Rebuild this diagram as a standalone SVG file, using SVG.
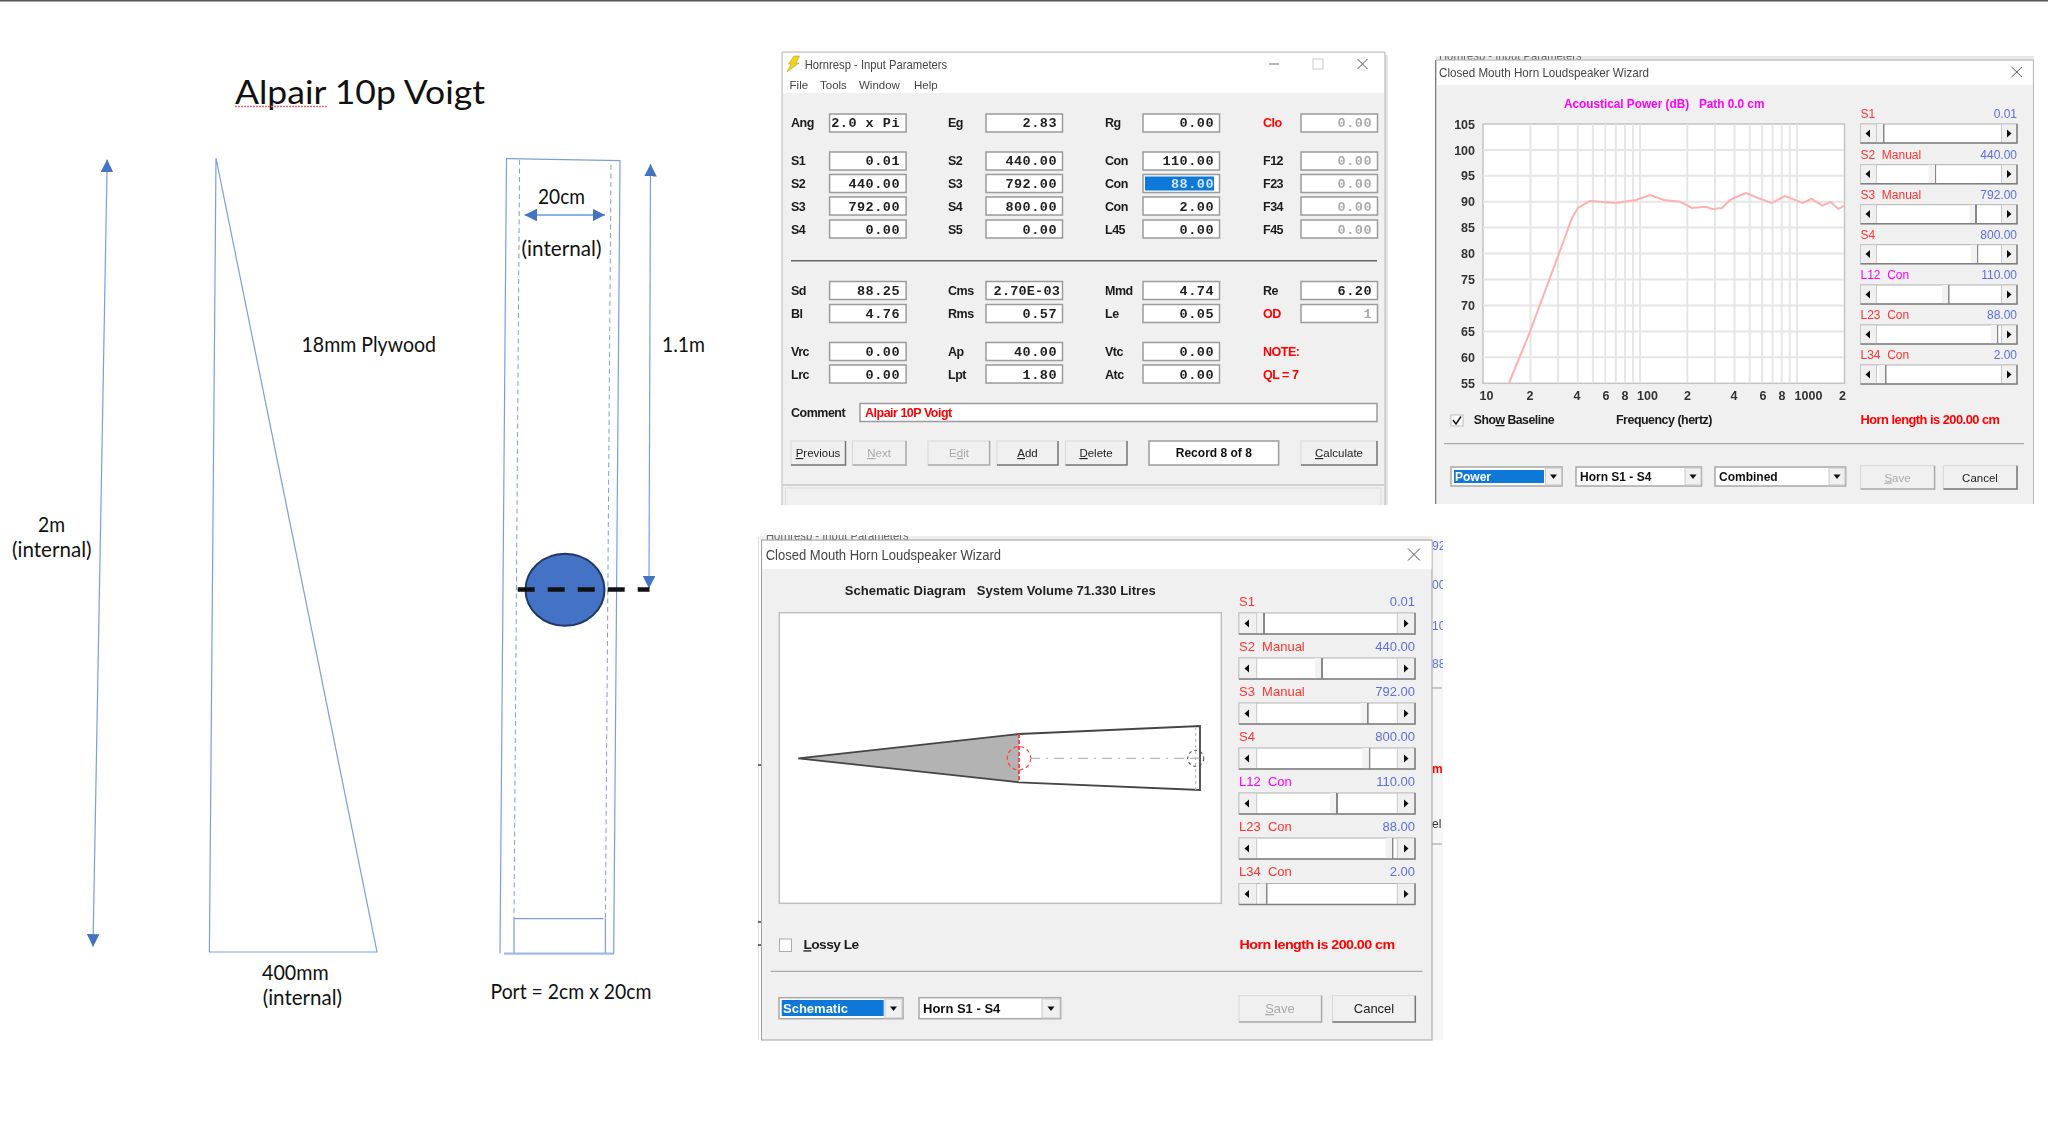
<svg xmlns="http://www.w3.org/2000/svg" width="2048" height="1133" viewBox="0 0 2048 1133">
<style>
text{font-family:"Liberation Sans",Arial,sans-serif;white-space:pre}
.c{font-family:Lato,"Liberation Sans",sans-serif;font-size:21px;fill:#111}
.ln{fill:none;stroke:#7c9fdc;stroke-width:1.2}
.da{fill:none;stroke:#7c9fdc;stroke-width:1;stroke-dasharray:5 3.5}
.ar{fill:none;stroke:#7c9fdc;stroke-width:1.2;marker-start:url(#ah);marker-end:url(#ah)}
.t{font-size:13px;fill:#444}
.m{font-size:11.5px;fill:#444}
.l{font-size:12.5px;font-weight:bold;fill:#1a1a1a;letter-spacing:-.5px}
.r{fill:#f00}
.v{font-family:"Liberation Mono",monospace;font-size:13.5px;font-weight:bold;fill:#222;text-anchor:end;letter-spacing:.5px}
.d{fill:#aaa}
.f{fill:#fff;stroke:#9b9b9b;stroke-width:1.5}
.b{fill:#f0f0f0;stroke:#d8d8d8}
.e{fill:none;stroke:#777;stroke-width:1.5}
.bt{font-size:11.5px;fill:#222;text-anchor:middle}
.dt{font-size:11.5px;fill:#aaa;text-anchor:middle}
.win{fill:#f0f0f0}
.wb{fill:none;stroke:#b8b8b8}
.tb{fill:#fff}
.g{stroke:#e6e6e6;stroke-width:2;fill:none}
.y{font-size:12.5px;font-weight:bold;fill:#333;text-anchor:end}
.x{font-size:12.5px;font-weight:bold;fill:#333;text-anchor:middle}
.sl{font-size:12px;fill:#f33}
.sm{font-size:12px;fill:#f0f}
.sv{font-size:12px;fill:#5a70e0;text-anchor:end}
.tr{fill:#fff;stroke:#b0b0b0}
.sb{fill:#f0f0f0;stroke:#c8c8c8}
.th{fill:url(#thumb)}
.tri{fill:#111}
.w{fill:#fff;stroke:#a8a8a8;stroke-width:1.5}
.sel{fill:#0a78d7}
.cb{font-size:12px;font-weight:bold;fill:#111}
.cs{font-size:12px;font-weight:bold;fill:#fff}
.se{stroke:#808080;stroke-width:1.5;fill:none}
</style>
<defs>
<filter id="soft" x="-2%" y="-2%" width="104%" height="104%"><feGaussianBlur stdDeviation="0.4"/></filter>
<linearGradient id="thumb"><stop offset="0" stop-color="#f2f2f2"/><stop offset=".8" stop-color="#f2f2f2"/><stop offset=".8" stop-color="#888"/><stop offset="1" stop-color="#888"/></linearGradient>
<marker id="ah" markerUnits="userSpaceOnUse" viewBox="0 0 12.5 12.6" refX="12.5" refY="6.3" markerWidth="12.5" markerHeight="12.6" orient="auto-start-reverse"><path d="M0 0L12.5 6.3L0 12.6Z" fill="#4472c4"/></marker>
<path id="tl" class="tri" d="M-2.5 0L2 -4V4Z"/>
<path id="tr" class="tri" d="M2.5 0L-2 -4V4Z"/>
<path id="td" class="tri" d="M-3.5 -2H3.5L0 2.5Z"/>
<clipPath id="c1"><rect x="1432" y="537" width="11" height="503"/></clipPath>
<clipPath id="c2"><rect x="1436" y="56" width="600" height="4"/></clipPath>
<clipPath id="c3"><rect x="760" y="535" width="672" height="5"/></clipPath>
</defs>
<rect width="2048" height="1133" fill="#fff"/>
<rect width="2048" height="1.5" fill="#555"/>

<g id="title">
<text class="c" x="235" y="104" style="font-size:33px" textLength="250" lengthAdjust="spacingAndGlyphs">Alpair 10p Voigt</text>
<path d="M235 106.5H327" stroke="#e26a6a" stroke-width="1.5" stroke-dasharray="2 1" fill="none"/>
</g>

<g id="connectors">
<line class="ar" x1="107.2" y1="159.6" x2="93" y2="946.7"/>
<line class="ar" x1="650.5" y1="164" x2="649" y2="588.5"/>
<line class="ar" x1="524.5" y1="215" x2="605" y2="215" style="stroke-width:2;stroke:#8fb0e6"/>
</g>

<g id="side-panel">
<path class="ln" d="M216 158L377 952H209.4Z"/>
<text class="c" x="301.5" y="352" textLength="134.5" lengthAdjust="spacingAndGlyphs">18mm Plywood</text>
<text class="c" x="38" y="532" textLength="27" lengthAdjust="spacingAndGlyphs">2m</text>
<text class="c" x="12" y="557" textLength="79.6" lengthAdjust="spacingAndGlyphs">(internal)</text>
<text class="c" x="262" y="980" textLength="66.6" lengthAdjust="spacingAndGlyphs">400mm</text>
<text class="c" x="262.7" y="1005" textLength="79.3" lengthAdjust="spacingAndGlyphs">(internal)</text>
</g>

<g id="front-panel">
<path class="ln" d="M500 953.6L506.5 158.6L620 160.7L613.7 953.6H504"/>
<path class="da" d="M519.6 160L514 918"/>
<path class="da" d="M611 165L605.4 918"/>
<path class="ln" d="M514 953.6V918.6H603.5M605.4 918.6V953.6"/>
<path d="M504 953.6H613.7" stroke="#9db8e6" stroke-width="2" fill="none"/>
<text class="c" x="538" y="204" textLength="47" lengthAdjust="spacingAndGlyphs">20cm</text>
<text class="c" x="521.6" y="256" textLength="79.9" lengthAdjust="spacingAndGlyphs">(internal)</text>
<text class="c" x="662" y="352" textLength="43" lengthAdjust="spacingAndGlyphs">1.1m</text>
<text class="c" x="490.5" y="998.6" textLength="161" lengthAdjust="spacingAndGlyphs">Port = 2cm x 20cm</text>
</g>

<g id="driver">
<ellipse cx="565" cy="589.7" rx="39.5" ry="36" fill="#4472c4" stroke="#1f3864" stroke-width="2"/>
<path d="M517.7 589.6H649.5" stroke="#111" stroke-width="4.5" stroke-dasharray="17 13" fill="none"/>
</g>

<g id="hornresp-input" filter="url(#soft)">
<rect x="785" y="55" width="603" height="450" fill="#e4e4e4"/>
<rect class="win" x="782" y="52" width="603" height="453"/>
<path class="wb" d="M782 505V52H1385V505"/>
<rect class="tb" x="783" y="53" width="601" height="40"/>
<path d="M794 56L799.5 56L796 63L799 63L787 72L791 64L788.5 64Z" fill="#f3d21b" stroke="#a89020" stroke-width=".5"/>
<text class="t" x="804.7" y="69" textLength="142.5" lengthAdjust="spacingAndGlyphs">Hornresp - Input Parameters</text>
<path d="M1269 64H1279" stroke="#888" stroke-width="1.2"/>
<rect x="1313" y="59" width="10" height="10" fill="none" stroke="#ccc"/>
<path d="M1357.5 59L1367.5 69M1367.5 59L1357.5 69" stroke="#555" stroke-width="1"/>
<text class="m" x="789.6" y="89.3">File</text><text class="m" x="820" y="89.3">Tools</text><text class="m" x="859" y="89.3">Window</text><text class="m" x="914" y="89.3">Help</text>

<text class="l" x="791" y="127">Ang</text><rect class="f" x="829.6" y="114" width="76.5" height="18"/><text class="v" x="900" y="127">2.0 x Pi</text>
<text class="l" x="948" y="127">Eg</text><rect class="f" x="986" y="114" width="76.5" height="18"/><text class="v" x="1057" y="127">2.83</text>
<text class="l" x="1105" y="127">Rg</text><rect class="f" x="1143" y="114" width="76.5" height="18"/><text class="v" x="1214" y="127">0.00</text>
<text class="l r" x="1263" y="127">Clo</text><rect class="f" x="1301" y="114" width="76.5" height="18"/><text class="v d" x="1372" y="127">0.00</text>

<text class="l" x="791" y="165">S1</text><rect class="f" x="829.6" y="152" width="76.5" height="18"/><text class="v" x="900" y="165">0.01</text>
<text class="l" x="948" y="165">S2</text><rect class="f" x="986" y="152" width="76.5" height="18"/><text class="v" x="1057" y="165">440.00</text>
<text class="l" x="1105" y="165">Con</text><rect class="f" x="1143" y="152" width="76.5" height="18"/><text class="v" x="1214" y="165">110.00</text>
<text class="l" x="1263" y="165">F12</text><rect class="f" x="1301" y="152" width="76.5" height="18"/><text class="v d" x="1372" y="165">0.00</text>

<text class="l" x="791" y="188">S2</text><rect class="f" x="829.6" y="174.5" width="76.5" height="18"/><text class="v" x="900" y="188">440.00</text>
<text class="l" x="948" y="188">S3</text><rect class="f" x="986" y="174.5" width="76.5" height="18"/><text class="v" x="1057" y="188">792.00</text>
<text class="l" x="1105" y="188">Con</text><rect class="f" x="1143" y="174.5" width="76.5" height="18"/><rect class="sel" x="1145" y="176.5" width="69" height="14"/><text class="v" x="1214" y="188" style="fill:#cfe4ff">88.00</text>
<text class="l" x="1263" y="188">F23</text><rect class="f" x="1301" y="174.5" width="76.5" height="18"/><text class="v d" x="1372" y="188">0.00</text>

<text class="l" x="791" y="211">S3</text><rect class="f" x="829.6" y="197" width="76.5" height="18"/><text class="v" x="900" y="211">792.00</text>
<text class="l" x="948" y="211">S4</text><rect class="f" x="986" y="197" width="76.5" height="18"/><text class="v" x="1057" y="211">800.00</text>
<text class="l" x="1105" y="211">Con</text><rect class="f" x="1143" y="197" width="76.5" height="18"/><text class="v" x="1214" y="211">2.00</text>
<text class="l" x="1263" y="211">F34</text><rect class="f" x="1301" y="197" width="76.5" height="18"/><text class="v d" x="1372" y="211">0.00</text>

<text class="l" x="791" y="234">S4</text><rect class="f" x="829.6" y="220" width="76.5" height="18"/><text class="v" x="900" y="234">0.00</text>
<text class="l" x="948" y="234">S5</text><rect class="f" x="986" y="220" width="76.5" height="18"/><text class="v" x="1057" y="234">0.00</text>
<text class="l" x="1105" y="234">L45</text><rect class="f" x="1143" y="220" width="76.5" height="18"/><text class="v" x="1214" y="234">0.00</text>
<text class="l" x="1263" y="234">F45</text><rect class="f" x="1301" y="220" width="76.5" height="18"/><text class="v d" x="1372" y="234">0.00</text>

<path d="M791 260.7H1377" stroke="#666" stroke-width="1.5"/>

<text class="l" x="791" y="295">Sd</text><rect class="f" x="829.6" y="281.5" width="76.5" height="18"/><text class="v" x="900" y="295">88.25</text>
<text class="l" x="948" y="295">Cms</text><rect class="f" x="986" y="281.5" width="76.5" height="18"/><text class="v" x="1060" y="295" style="letter-spacing:.2px">2.70E-03</text>
<text class="l" x="1105" y="295">Mmd</text><rect class="f" x="1143" y="281.5" width="76.5" height="18"/><text class="v" x="1214" y="295">4.74</text>
<text class="l" x="1263" y="295">Re</text><rect class="f" x="1301" y="281.5" width="76.5" height="18"/><text class="v" x="1372" y="295">6.20</text>

<text class="l" x="791" y="318">Bl</text><rect class="f" x="829.6" y="304.5" width="76.5" height="18"/><text class="v" x="900" y="318">4.76</text>
<text class="l" x="948" y="318">Rms</text><rect class="f" x="986" y="304.5" width="76.5" height="18"/><text class="v" x="1057" y="318">0.57</text>
<text class="l" x="1105" y="318">Le</text><rect class="f" x="1143" y="304.5" width="76.5" height="18"/><text class="v" x="1214" y="318">0.05</text>
<text class="l r" x="1263" y="318">OD</text><rect class="f" x="1301" y="304.5" width="76.5" height="18"/><text class="v d" x="1372" y="318">1</text>

<text class="l" x="791" y="356">Vrc</text><rect class="f" x="829.6" y="342.5" width="76.5" height="18"/><text class="v" x="900" y="356">0.00</text>
<text class="l" x="948" y="356">Ap</text><rect class="f" x="986" y="342.5" width="76.5" height="18"/><text class="v" x="1057" y="356">40.00</text>
<text class="l" x="1105" y="356">Vtc</text><rect class="f" x="1143" y="342.5" width="76.5" height="18"/><text class="v" x="1214" y="356">0.00</text>
<text class="l r" x="1263" y="356">NOTE:</text>

<text class="l" x="791" y="379">Lrc</text><rect class="f" x="829.6" y="365" width="76.5" height="18"/><text class="v" x="900" y="379">0.00</text>
<text class="l" x="948" y="379">Lpt</text><rect class="f" x="986" y="365" width="76.5" height="18"/><text class="v" x="1057" y="379">1.80</text>
<text class="l" x="1105" y="379">Atc</text><rect class="f" x="1143" y="365" width="76.5" height="18"/><text class="v" x="1214" y="379">0.00</text>
<text class="l r" x="1263" y="379">QL = 7</text>

<text class="l" x="791" y="417">Comment</text>
<rect class="f" x="860" y="403.5" width="517" height="18"/>
<text class="l r" x="865" y="417">Alpair 10P Voigt</text>

<rect class="b" x="791" y="441" width="54.5" height="24"/><path class="e" d="M791 465H845.5V441"/><text class="bt" x="818" y="457"><tspan text-decoration="underline">P</tspan>revious</text>
<rect class="b" x="852.4" y="441" width="53.6" height="24"/><path class="e" d="M852.4 465H906V441" style="stroke:#aaa"/><text class="dt" x="879" y="457"><tspan text-decoration="underline">N</tspan>ext</text>
<rect class="b" x="928" y="441" width="61.6" height="24"/><path class="e" d="M928 465H989.6V441" style="stroke:#aaa"/><text class="dt" x="959" y="457">E<tspan text-decoration="underline">d</tspan>it</text>
<rect class="b" x="997" y="441" width="61" height="24"/><path class="e" d="M997 465H1058V441"/><text class="bt" x="1027.5" y="457"><tspan text-decoration="underline">A</tspan>dd</text>
<rect class="b" x="1065.5" y="441" width="61.5" height="24"/><path class="e" d="M1065.5 465H1127V441"/><text class="bt" x="1096" y="457"><tspan text-decoration="underline">D</tspan>elete</text>
<rect class="f" x="1149" y="441" width="129.6" height="24"/><text x="1213.8" y="457" text-anchor="middle" font-size="12" font-weight="bold" fill="#111">Record 8 of 8</text>
<rect class="b" x="1301" y="441" width="76" height="24"/><path class="e" d="M1301 465H1377V441"/><text class="bt" x="1339" y="457"><tspan text-decoration="underline">C</tspan>alculate</text>
<path d="M783 485H1384" stroke="#c8c8c8" stroke-width="1.5"/>
<path d="M785.5 505V488H1381V505" stroke="#ddd" fill="none"/>
</g>

<g id="wizard-power" filter="url(#soft)">
<rect x="1436" y="56" width="598" height="5" fill="#e8e8e8"/>
<text clip-path="url(#c2)" x="1439" y="60" font-size="13" fill="#666" textLength="142.5" lengthAdjust="spacingAndGlyphs">Hornresp - Input Parameters</text>
<rect class="win" x="1436" y="60" width="597.5" height="444"/>
<path class="wb" d="M1436 504V60H2033.5V504"/>
<path d="M1435.5 60V504" stroke="#777" stroke-width="1"/>
<rect class="tb" x="1437" y="61" width="595.5" height="24"/>
<text class="t" x="1439" y="76.7" textLength="210" lengthAdjust="spacingAndGlyphs">Closed Mouth Horn Loudspeaker Wizard</text>
<path d="M2011.5 67L2022 77M2022 67L2011.5 77" stroke="#555" stroke-width="1"/>
<text x="1564" y="108" font-size="12" font-weight="bold" fill="#f0f" textLength="200.4" lengthAdjust="spacingAndGlyphs">Acoustical Power (dB)   Path 0.0 cm</text>
<rect x="1483" y="124" width="361.5" height="259.3" fill="#fff" stroke="#c4c4c4" stroke-width="1.5"/>
<path class="g" d="M1483 149.9H1844M1483 175.8H1844M1483 201.7H1844M1483 227.6H1844M1483 253.6H1844M1483 279.5H1844M1483 305.4H1844M1483 331.4H1844M1483 357.3H1844"/>
<path class="g" d="M1530.5 124V383M1558.1 124V383M1577.7 124V383M1592.9 124V383M1605.3 124V383M1615.8 124V383M1624.9 124V383M1632.9 124V383M1640.1 124V383M1687.3 124V383M1714.9 124V383M1734.5 124V383M1749.7 124V383M1762.1 124V383M1772.6 124V383M1781.7 124V383M1789.7 124V383M1796.9 124V383"/>
<path d="M1509 383L1530 331.7L1556 261.7L1572 218L1578 208L1590 201L1616 203L1636 200L1650 195L1664 200L1680 201.7L1692 208L1706 206.7L1712 209L1722 208L1730 200L1736 197L1746 193L1760 198.7L1771.6 203L1785 196L1802.5 203L1811.7 199L1822.5 205.7L1830.5 202L1838.5 209L1844 205.7" fill="none" stroke="#ffb0b0" stroke-width="2"/>
<text class="y" x="1475" y="128.5">105</text><text class="y" x="1475" y="154.5">100</text><text class="y" x="1475" y="180">95</text><text class="y" x="1475" y="206">90</text><text class="y" x="1475" y="232">85</text><text class="y" x="1475" y="258">80</text><text class="y" x="1475" y="284">75</text><text class="y" x="1475" y="310">70</text><text class="y" x="1475" y="336">65</text><text class="y" x="1475" y="362">60</text><text class="y" x="1475" y="388">55</text>
<text class="x" x="1486.5" y="400">10</text><text class="x" x="1530" y="400">2</text><text class="x" x="1577" y="400">4</text><text class="x" x="1606" y="400">6</text><text class="x" x="1625" y="400">8</text><text class="x" x="1647.5" y="400">100</text><text class="x" x="1687.5" y="400">2</text><text class="x" x="1734" y="400">4</text><text class="x" x="1763" y="400">6</text><text class="x" x="1782" y="400">8</text><text class="x" x="1808.5" y="400">1000</text><text class="x" x="1842.5" y="400">2</text>
<g id="sliders-power">
<text class="sl" x="1860.5" y="118">S1</text><text class="sv" x="2017" y="118">0.01</text><rect class="tr" x="1860.5" y="124" width="156.5" height="19"/><rect class="sb" x="1860.5" y="124" width="16" height="19"/><rect class="sb" x="2001.5" y="124" width="15.5" height="19"/><rect class="th" x="1877" y="124" width="7.5" height="19"/><path class="se" d="M1860.5 143H2017V124"/><use href="#tl" x="1868" y="133.5"/><use href="#tr" x="2009" y="133.5"/>
<text class="sl" x="1860.5" y="158.7">S2  Manual</text><text class="sv" x="2017" y="158.7">440.00</text><rect class="tr" x="1860.5" y="164.7" width="156.5" height="19"/><rect class="sb" x="1860.5" y="164.7" width="16" height="19"/><rect class="sb" x="2001.5" y="164.7" width="15.5" height="19"/><rect class="th" x="1928.6" y="164.7" width="7.5" height="19"/><path class="se" d="M1860.5 183.7H2017V164.7"/><use href="#tl" x="1868" y="174"/><use href="#tr" x="2009" y="174"/>
<text class="sl" x="1860.5" y="198.7">S3  Manual</text><text class="sv" x="2017" y="198.7">792.00</text><rect class="tr" x="1860.5" y="204.7" width="156.5" height="19"/><rect class="sb" x="1860.5" y="204.7" width="16" height="19"/><rect class="sb" x="2001.5" y="204.7" width="15.5" height="19"/><rect class="th" x="1969.5" y="204.7" width="7.5" height="19"/><path class="se" d="M1860.5 223.7H2017V204.7"/><use href="#tl" x="1868" y="214"/><use href="#tr" x="2009" y="214"/>
<text class="sl" x="1860.5" y="238.7">S4</text><text class="sv" x="2017" y="238.7">800.00</text><rect class="tr" x="1860.5" y="244.7" width="156.5" height="19"/><rect class="sb" x="1860.5" y="244.7" width="16" height="19"/><rect class="sb" x="2001.5" y="244.7" width="15.5" height="19"/><rect class="th" x="1970.7" y="244.7" width="7.5" height="19"/><path class="se" d="M1860.5 263.7H2017V244.7"/><use href="#tl" x="1868" y="254"/><use href="#tr" x="2009" y="254"/>
<text class="sm" x="1860.5" y="278.7">L12  Con</text><text class="sv" x="2017" y="278.7">110.00</text><rect class="tr" x="1860.5" y="285" width="156.5" height="19"/><rect class="sb" x="1860.5" y="285" width="16" height="19"/><rect class="sb" x="2001.5" y="285" width="15.5" height="19"/><rect class="th" x="1942" y="285" width="7.5" height="19"/><path class="se" d="M1860.5 304H2017V285"/><use href="#tl" x="1868" y="294.5"/><use href="#tr" x="2009" y="294.5"/>
<text class="sl" x="1860.5" y="319">L23  Con</text><text class="sv" x="2017" y="319">88.00</text><rect class="tr" x="1860.5" y="325" width="156.5" height="19"/><rect class="sb" x="1860.5" y="325" width="16" height="19"/><rect class="sb" x="2001.5" y="325" width="15.5" height="19"/><rect class="th" x="1990.7" y="325" width="7.5" height="19"/><path class="se" d="M1860.5 344H2017V325"/><use href="#tl" x="1868" y="334.5"/><use href="#tr" x="2009" y="334.5"/>
<text class="sl" x="1860.5" y="359">L34  Con</text><text class="sv" x="2017" y="359">2.00</text><rect class="tr" x="1860.5" y="365" width="156.5" height="19"/><rect class="sb" x="1860.5" y="365" width="16" height="19"/><rect class="sb" x="2001.5" y="365" width="15.5" height="19"/><rect class="th" x="1879" y="365" width="7.5" height="19"/><path class="se" d="M1860.5 384H2017V365"/><use href="#tl" x="1868" y="374.5"/><use href="#tr" x="2009" y="374.5"/>
</g>
<rect x="1451" y="415" width="12" height="11" fill="#fff" stroke="#bbb"/><path d="M1453 420L1456 424L1461 416.5" fill="none" stroke="#111" stroke-width="1.5"/>
<text class="l" x="1473.7" y="424" textLength="80.3" lengthAdjust="spacingAndGlyphs">Sho<tspan text-decoration="underline">w</tspan> Baseline</text>
<text class="l" x="1616" y="424" textLength="96" lengthAdjust="spacingAndGlyphs">Frequency (hertz)</text>
<text class="l r" x="1860.5" y="424" textLength="139" lengthAdjust="spacingAndGlyphs">Horn length is 200.00 cm</text>
<path d="M1444 443.7H2024" stroke="#999" stroke-width="1"/>
<rect class="w" x="1451" y="467" width="111" height="19"/><rect class="sel" x="1454" y="470" width="90" height="13"/><rect class="sb" x="1545.5" y="468" width="16" height="17"/><use href="#td" x="1553.5" y="476.5"/><text class="cs" x="1455" y="481">Power</text>
<rect class="w" x="1576" y="467" width="125.5" height="19"/><rect class="sb" x="1685" y="468" width="16" height="17"/><use href="#td" x="1693" y="476.5"/><text class="cb" x="1580" y="481">Horn S1 - S4</text>
<rect class="w" x="1715" y="467" width="130.7" height="19"/><rect class="sb" x="1829" y="468" width="16" height="17"/><use href="#td" x="1837" y="476.5"/><text class="cb" x="1719" y="481">Combined</text>
<rect class="b" x="1860.5" y="465.7" width="74" height="23.3"/><path class="e" d="M1860.5 489H1934.6V465.7" style="stroke:#aaa"/><text class="dt" x="1897.5" y="481.5"><tspan text-decoration="underline">S</tspan>ave</text>
<rect class="b" x="1943.4" y="465.7" width="73.6" height="23.3"/><path class="e" d="M1943.4 489H2017V465.7"/><text class="bt" x="1980" y="481.5">Cancel</text>
</g>

<g id="wizard-schematic" filter="url(#soft)">
<rect x="1432" y="537" width="11" height="503" fill="#f6f6f6"/>
<g clip-path="url(#c1)" font-size="12">
<text x="1432" y="550" fill="#5a70e0">92</text><text x="1432" y="589" fill="#5a70e0">00</text><text x="1432" y="630" fill="#5a70e0">10</text><text x="1432" y="668" fill="#5a70e0">88</text>
<text x="1432" y="773" fill="#f00" font-weight="bold">m</text><text x="1432" y="828" fill="#333">el</text>
<path d="M1432 688H1442M1432 844H1442" stroke="#999"/>
</g>
<rect x="760" y="536" width="672" height="4" fill="#eee"/>
<text clip-path="url(#c3)" x="766" y="540" font-size="13" fill="#666" textLength="142.5" lengthAdjust="spacingAndGlyphs">Hornresp - Input Parameters</text>
<path d="M758.5 537V1040" stroke="#ddd"/><path d="M758 765H762M758 922H762M758 945H761" stroke="#444" stroke-width="1.5"/>
<rect x="761.5" y="540" width="670.5" height="500" fill="#f0f0f0" stroke="#a0a0a0"/>
<rect class="tb" x="762.5" y="541" width="669" height="28"/>
<text class="t" x="765.7" y="560" textLength="235.3" lengthAdjust="spacingAndGlyphs" style="font-size:14px">Closed Mouth Horn Loudspeaker Wizard</text>
<path d="M1408 548.5L1420 560.5M1420 548.5L1408 560.5" stroke="#555" stroke-width="1"/>
<text x="844.7" y="595" font-size="13" font-weight="bold" fill="#222" textLength="311" lengthAdjust="spacingAndGlyphs">Schematic Diagram   System Volume 71.330 Litres</text>
<rect x="779.3" y="612.7" width="442" height="290.6" fill="#fff" stroke="#c0c0c0" stroke-width="1.5"/>
<g id="horn">
<path d="M798.3 758.3L1019 734V782.3Z" fill="#b3b3b3"/>
<path d="M798.3 758.3L1019 734L1200 726V790L1019 782.3Z" fill="none" stroke="#444" stroke-width="1.8"/>
<path d="M1019 734V782.3" stroke="#f33" stroke-width="1.8" stroke-dasharray="4 2"/>
<circle cx="1019" cy="758.3" r="11.7" fill="none" stroke="#f44" stroke-width="1.3" stroke-dasharray="4 3"/>
<path d="M1030 758.3H1195" stroke="#bbb" stroke-width="1.2" stroke-dasharray="10 6 2 6"/>
<path d="M1195.7 727V790" stroke="#bbb" stroke-width="1" stroke-dasharray="3 3"/>
<circle cx="1195.7" cy="758.3" r="8" fill="none" stroke="#555" stroke-width="1.1" stroke-dasharray="3 3"/>
<path d="M1192 758.3H1199.5" stroke="#aaa"/>
</g>
<g id="sliders-schematic">
<text class="sl" x="1239" y="606" style="font-size:13px">S1</text><text class="sv" x="1415" y="606" style="font-size:13px">0.01</text><rect class="tr" x="1239" y="613" width="176" height="21"/><rect class="sb" x="1239" y="613" width="17.7" height="21"/><rect class="sb" x="1397.3" y="613" width="17.7" height="21"/><rect class="th" x="1257" y="613" width="8" height="21"/><path class="se" d="M1239 634H1415V613"/><use href="#tl" x="1247" y="623.5"/><use href="#tr" x="1406" y="623.5"/>
<text class="sl" x="1239" y="651" style="font-size:13px">S2  Manual</text><text class="sv" x="1415" y="651" style="font-size:13px">440.00</text><rect class="tr" x="1239" y="658" width="176" height="21"/><rect class="sb" x="1239" y="658" width="17.7" height="21"/><rect class="sb" x="1397.3" y="658" width="17.7" height="21"/><rect class="th" x="1315" y="658" width="8" height="21"/><path class="se" d="M1239 679H1415V658"/><use href="#tl" x="1247" y="668.5"/><use href="#tr" x="1406" y="668.5"/>
<text class="sl" x="1239" y="696" style="font-size:13px">S3  Manual</text><text class="sv" x="1415" y="696" style="font-size:13px">792.00</text><rect class="tr" x="1239" y="703" width="176" height="21"/><rect class="sb" x="1239" y="703" width="17.7" height="21"/><rect class="sb" x="1397.3" y="703" width="17.7" height="21"/><rect class="th" x="1360.7" y="703" width="8" height="21"/><path class="se" d="M1239 724H1415V703"/><use href="#tl" x="1247" y="713.5"/><use href="#tr" x="1406" y="713.5"/>
<text class="sl" x="1239" y="741" style="font-size:13px">S4</text><text class="sv" x="1415" y="741" style="font-size:13px">800.00</text><rect class="tr" x="1239" y="748" width="176" height="21"/><rect class="sb" x="1239" y="748" width="17.7" height="21"/><rect class="sb" x="1397.3" y="748" width="17.7" height="21"/><rect class="th" x="1362.3" y="748" width="8" height="21"/><path class="se" d="M1239 769H1415V748"/><use href="#tl" x="1247" y="758.5"/><use href="#tr" x="1406" y="758.5"/>
<text class="sm" x="1239" y="786" style="font-size:13px">L12  Con</text><text class="sv" x="1415" y="786" style="font-size:13px">110.00</text><rect class="tr" x="1239" y="793" width="176" height="21"/><rect class="sb" x="1239" y="793" width="17.7" height="21"/><rect class="sb" x="1397.3" y="793" width="17.7" height="21"/><rect class="th" x="1330" y="793" width="8" height="21"/><path class="se" d="M1239 814H1415V793"/><use href="#tl" x="1247" y="803.5"/><use href="#tr" x="1406" y="803.5"/>
<text class="sl" x="1239" y="831" style="font-size:13px">L23  Con</text><text class="sv" x="1415" y="831" style="font-size:13px">88.00</text><rect class="tr" x="1239" y="838" width="176" height="21"/><rect class="sb" x="1239" y="838" width="17.7" height="21"/><rect class="sb" x="1397.3" y="838" width="17.7" height="21"/><rect class="th" x="1385.4" y="838" width="8" height="21"/><path class="se" d="M1239 859H1415V838"/><use href="#tl" x="1247" y="848.5"/><use href="#tr" x="1406" y="848.5"/>
<text class="sl" x="1239" y="876.3" style="font-size:13px">L34  Con</text><text class="sv" x="1415" y="876.3" style="font-size:13px">2.00</text><rect class="tr" x="1239" y="883.5" width="176" height="21"/><rect class="sb" x="1239" y="883.5" width="17.7" height="21"/><rect class="sb" x="1397.3" y="883.5" width="17.7" height="21"/><rect class="th" x="1259.5" y="883.5" width="8" height="21"/><path class="se" d="M1239 904.5H1415V883.5"/><use href="#tl" x="1247" y="894"/><use href="#tr" x="1406" y="894"/>
</g>
<rect x="779.5" y="939" width="12" height="12.5" fill="#fff" stroke="#aaa"/>
<text class="l" x="803.4" y="949.3" textLength="55.3" lengthAdjust="spacingAndGlyphs" style="font-size:13px"><tspan text-decoration="underline">L</tspan>ossy Le</text>
<text class="l r" x="1239.6" y="949.3" textLength="155" lengthAdjust="spacingAndGlyphs" style="font-size:13px">Horn length is 200.00 cm</text>
<path d="M770.8 971.3H1422.6" stroke="#999" stroke-width="1"/>
<rect class="w" x="779" y="997.7" width="124" height="21"/><rect class="sel" x="781.7" y="1000" width="102" height="16"/><rect class="sb" x="885" y="999" width="17" height="19"/><use href="#td" x="893.5" y="1008.5"/><text class="cs" x="783" y="1013" style="font-size:13px">Schematic</text>
<rect class="w" x="919" y="997.7" width="141.7" height="21"/><rect class="sb" x="1042" y="999" width="18" height="19"/><use href="#td" x="1051" y="1008.5"/><text class="cb" x="923" y="1013" style="font-size:13px">Horn S1 - S4</text>
<rect class="b" x="1239" y="995.7" width="82.6" height="26.3"/><path class="e" d="M1239 1022H1321.6V995.7" style="stroke:#aaa"/><text class="dt" x="1280" y="1013" style="font-size:13px"><tspan text-decoration="underline">S</tspan>ave</text>
<rect class="b" x="1332.4" y="995.7" width="83" height="26.3"/><path class="e" d="M1332.4 1022H1415.3V995.7"/><text class="bt" x="1374" y="1013" style="font-size:13px">Cancel</text>
</g>
</svg>
